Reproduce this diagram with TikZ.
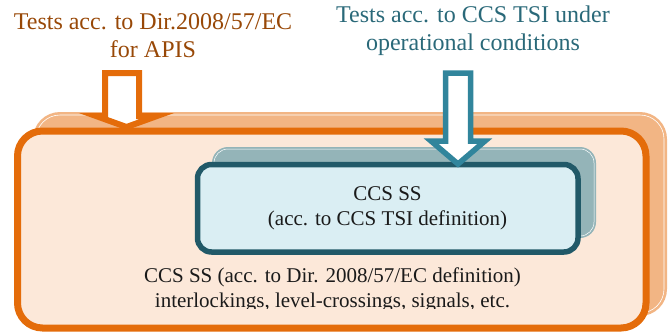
\documentclass[tikz,border=0pt]{standalone}
\usepackage{fontspec}
\setmainfont{Liberation Serif}
\definecolor{orDark}{HTML}{E46C0A}
\definecolor{orFill}{HTML}{FCE8D9}
\definecolor{orBack}{HTML}{F2B584}
\definecolor{orText}{HTML}{984807}
\definecolor{tlDark}{HTML}{215968}
\definecolor{tlFill}{HTML}{DAEEF3}
\definecolor{tlBack}{HTML}{94B4B8}
\definecolor{tlArrow}{HTML}{31859C}
\definecolor{tlText}{HTML}{2A6979}
\definecolor{txt}{HTML}{1A1A1A}
\tikzset{
  backbox/.style={rectangle, inner sep=0pt, outer sep=0pt},
  hollowarrow/.style={line width=6pt, line join=miter, fill=white},
  bigtext/.style={inner sep=0pt, align=center, font=\fontsize{24}{28}\selectfont},
  boxtext/.style={inner sep=0pt, align=center, text=txt, font=\fontsize{21}{25}\selectfont},
}
\begin{document}
\begin{tikzpicture}[x=1pt,y=-1pt]
\useasboundingbox (0,0) rectangle (672,333);
% back orange box
\node[backbox, fill=orBack, rounded corners=27pt, minimum width=634pt, minimum height=204pt] (obk) at (350,214) {};
\draw[white, line width=0.6pt, rounded corners=24pt] (36,115) rectangle (664,313);
% main box
\node[backbox, draw=orDark, fill=orFill, line width=7pt, rounded corners=25pt, minimum width=628.5pt, minimum height=197pt] (main) at (331.75,229.5) {};
% back teal box
\node[backbox, fill=tlBack, rounded corners=16pt, minimum width=384pt, minimum height=91pt] (tbk) at (404,192.5) {};
\draw[white, line width=0.5pt, rounded corners=14pt] (214,149) rectangle (594,236);
% front teal box
\node[backbox, draw=tlDark, fill=tlFill, line width=5.5pt, rounded corners=14pt, minimum width=380.5pt, minimum height=87.5pt] (tsi) at (387.75,208.25) {};
% texts
\node[bigtext, text=orText] (tdir) at (153,36) {Tests acc. to Dir.2008/57/EC\\for APIS};
\node[bigtext, text=tlText] (tccs) at (473,31) {Tests acc. to CCS TSI under\\operational conditions};
\node[boxtext] (ltsi) at (387.5,208.5) {CCS SS\\(acc. to CCS TSI definition)};
\begin{scope}
\clip (20,250) rectangle (640,308.5);
\node[boxtext] (ldir) at (332.5,289.5) {CCS SS (acc. to Dir. 2008/57/EC definition)\\interlockings, level-crossings, signals, etc.};
\end{scope}
% arrows
\draw[hollowarrow, draw=orDark] (105,73) -- (139,73) -- (139,116) -- (157,116) -- (126.5,127) -- (96,116) -- (105,116) -- cycle;
\draw[hollowarrow, draw=tlArrow, line width=5.5pt] (445.5,73) -- (470.5,73) -- (470.5,141) -- (485,141) -- (458,164) -- (431,141) -- (445.5,141) -- cycle;
\end{tikzpicture}
\end{document}
